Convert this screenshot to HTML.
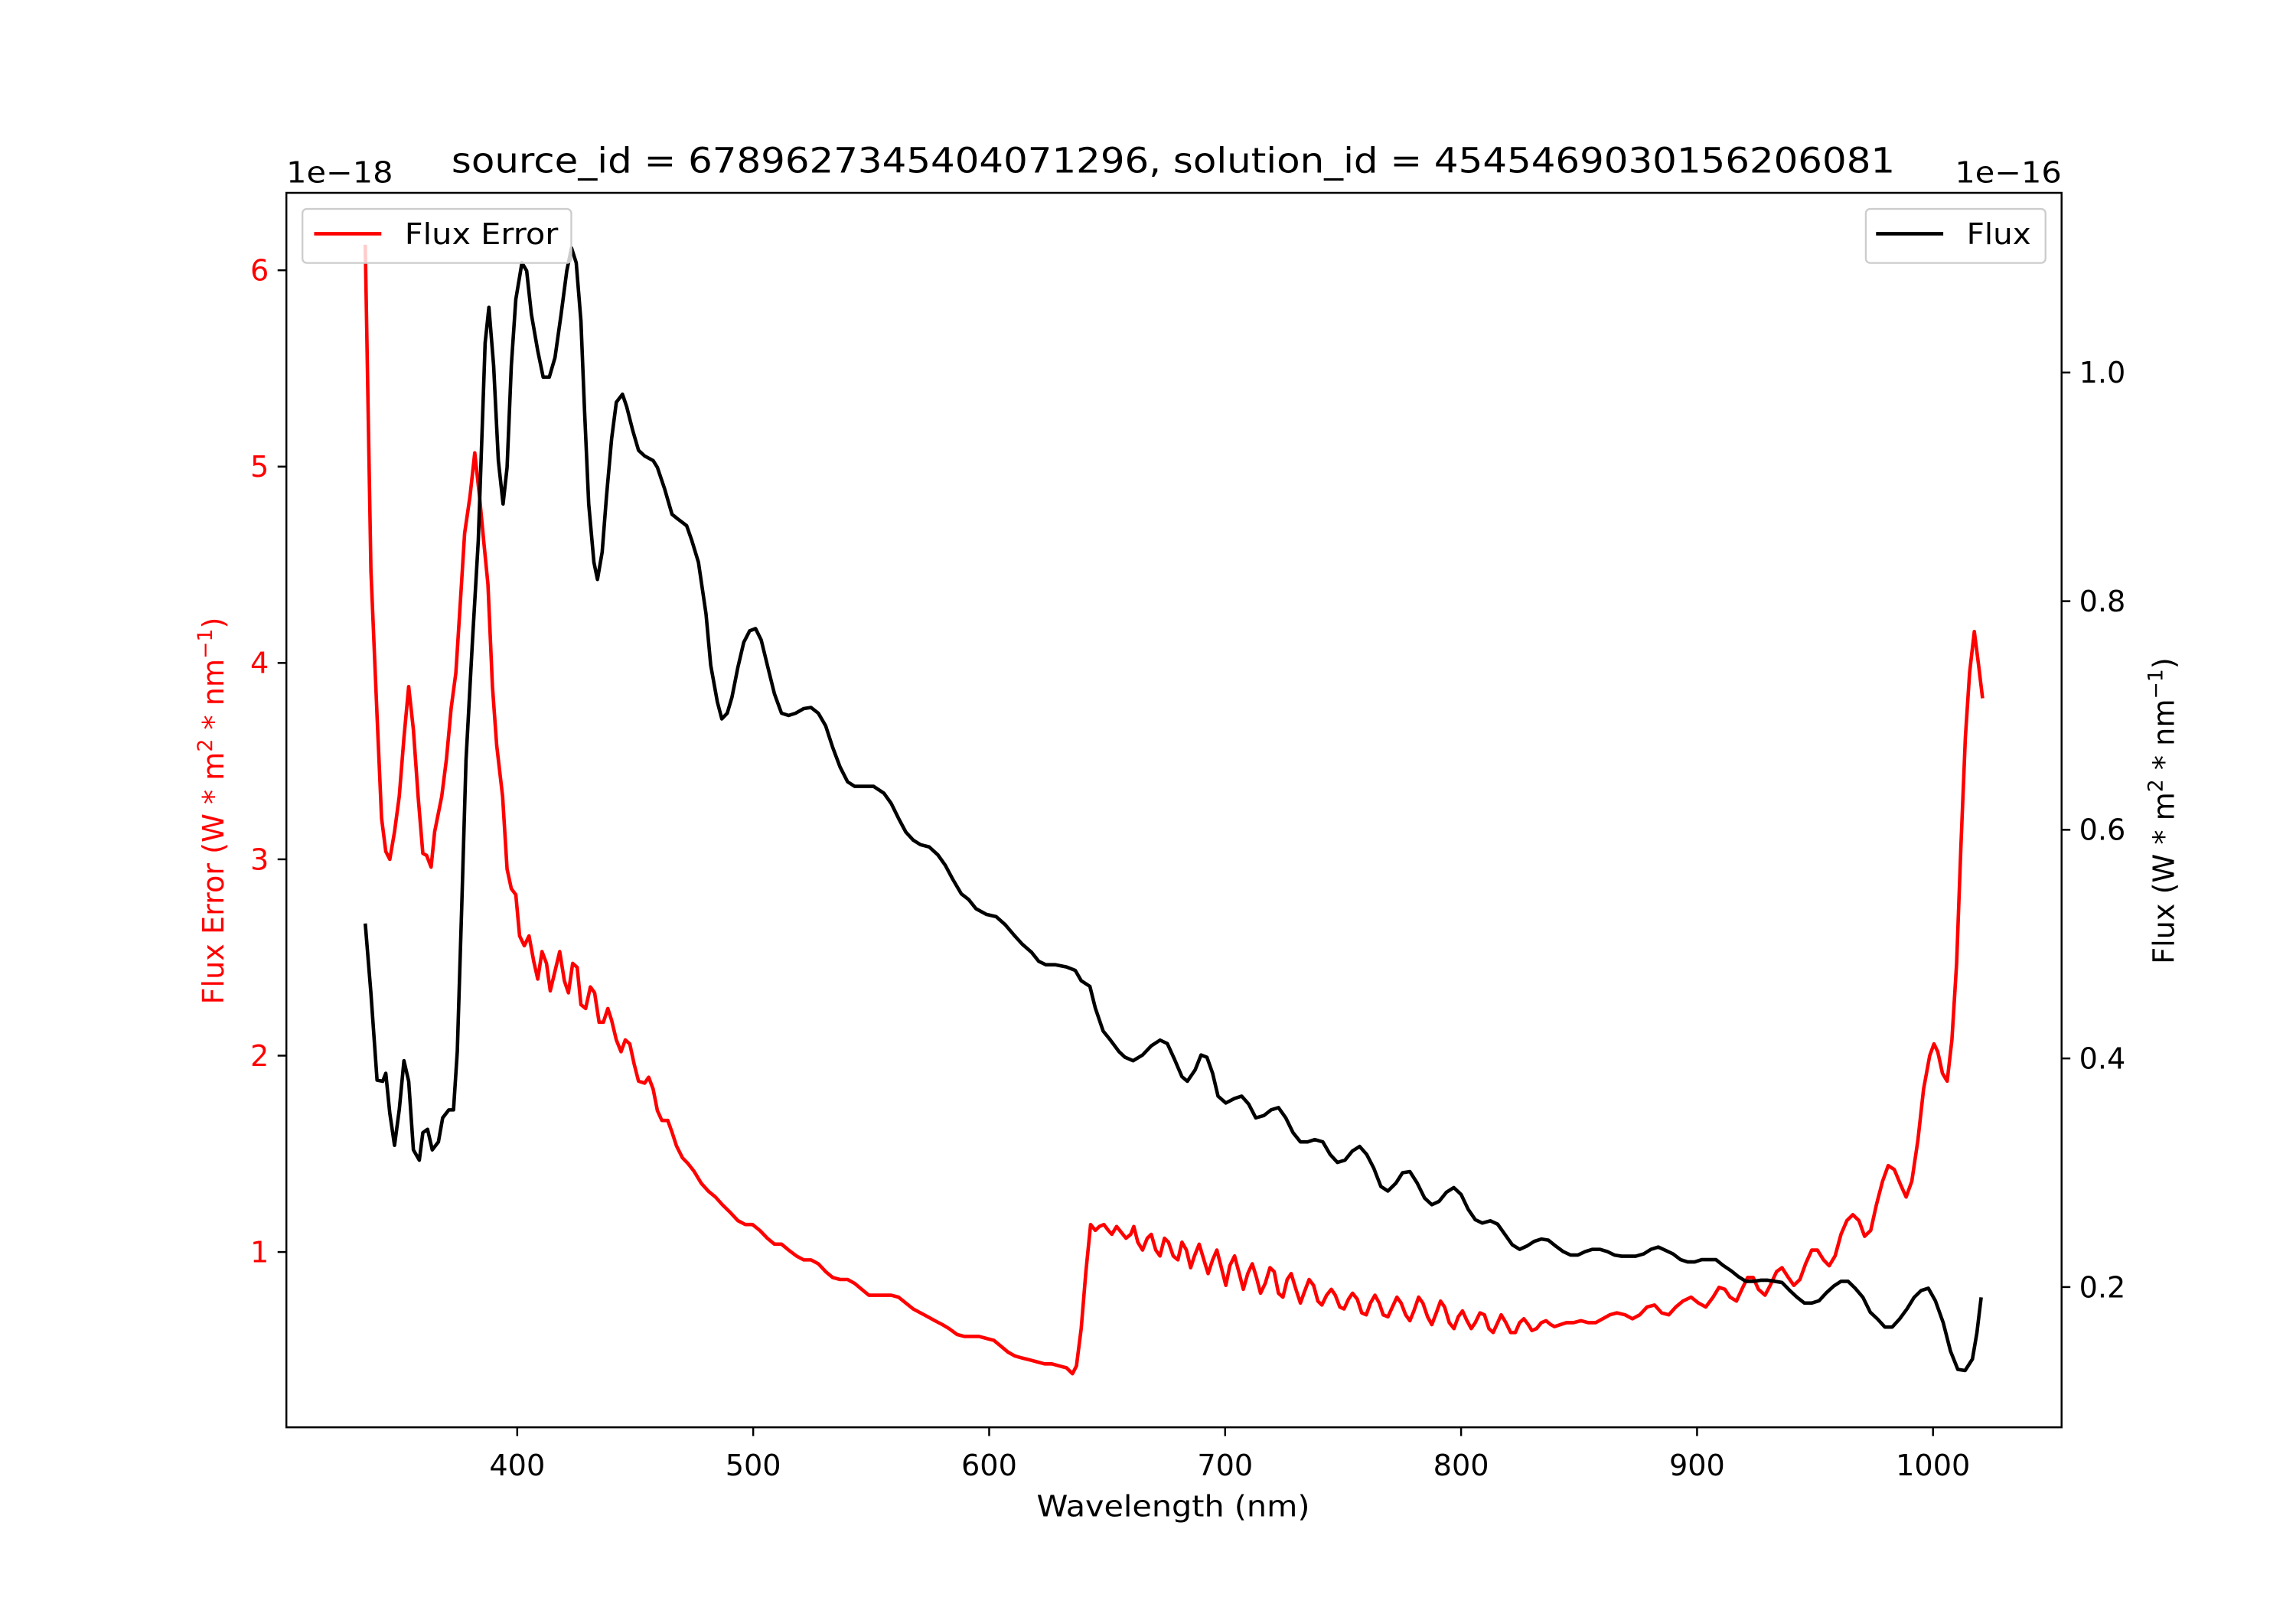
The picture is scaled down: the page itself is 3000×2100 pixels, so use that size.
<!DOCTYPE html>
<html><head><meta charset="utf-8"><style>
html,body{margin:0;padding:0;background:#fff;}
svg{display:block;font-family:"DejaVu Sans","Liberation Sans",sans-serif;}
</style></head><body>
<svg id="chart" width="3000" height="2100" viewBox="0 0 1571.43 1100" xmlns="http://www.w3.org/2000/svg">
<rect x="0" y="0" width="1571.43" height="1100" fill="#fff"/>
<g id="plot"></g>
<text x="803" y="118" font-size="24" text-anchor="middle" textLength="988" lengthAdjust="spacingAndGlyphs">source_id = 6789627345404071296, solution_id = 4545469030156206081</text>
<text x="196" y="125" font-size="20" textLength="73" lengthAdjust="spacingAndGlyphs">1e−18</text>
<text x="1411" y="125" font-size="20" text-anchor="end" textLength="73" lengthAdjust="spacingAndGlyphs">1e−16</text>
<text x="803" y="1038" font-size="20" text-anchor="middle" textLength="187" lengthAdjust="spacingAndGlyphs">Wavelength (nm)</text>
<text transform="translate(153,555) rotate(-90)" font-size="20" fill="#ff0000" text-anchor="middle">Flux Error (W * m<tspan font-size="14" dy="-8">2</tspan><tspan dy="8"> * nm</tspan><tspan font-size="14" dy="-8">−1</tspan><tspan dy="8">)</tspan></text>
<text transform="translate(1488,555) rotate(-90)" font-size="20" fill="#000" text-anchor="middle">Flux (W * m<tspan font-size="14" dy="-8">2</tspan><tspan dy="8"> * nm</tspan><tspan font-size="14" dy="-8">−1</tspan><tspan dy="8">)</tspan></text>
<g>
<rect x="207" y="143" width="184" height="37" rx="3" fill="#fff" fill-opacity="0.8" stroke="#ccc" stroke-width="1.2"/>
<line x1="215" y1="160" x2="261" y2="160" stroke="#ff0000" stroke-width="2.4"/>
<text x="277" y="167" font-size="20" textLength="105" lengthAdjust="spacingAndGlyphs">Flux Error</text>
</g>
<g>
<rect x="1277" y="143" width="123" height="37" rx="3" fill="#fff" fill-opacity="0.8" stroke="#ccc" stroke-width="1.2"/>
<line x1="1284" y1="160" x2="1330" y2="160" stroke="#000" stroke-width="2.4"/>
<text x="1346" y="167" font-size="20" textLength="44" lengthAdjust="spacingAndGlyphs">Flux</text>
</g>
</svg>
<script>
const wlFlux=[335.6,338,340.6,343,344.3,346,348,350,352,354,356,358.5,360,362,364,366.6,368.4,371,373,374.6,376.5,378.3,381,383.5,385,386.4,388,390,392,394,395.7,397.5,399.4,402,404,406,408.7,411,413.6,416,418.6,421,423,425,427,428.5,430.3,432.5,434,436,437.8,440,442,444.6,446.4,449,451.4,454,457.6,459.4,462.5,465.6,468,471.8,474,476.8,480,482,484.8,486.7,489,491,493.5,496,498.5,501,503.4,506,509,512,515,518,521.4,524.5,527.6,530.7,533.7,536.8,540,543,547.4,551,555.4,558.5,561.6,564.7,567.8,570.9,574.6,578.3,581.4,584.5,588.2,591.3,594.4,598.8,603,606.8,610.5,614,617.9,621,624,627.9,632.8,636.5,639,642.7,645,648.3,651.4,655,657.6,661,665,668.7,672.4,675.5,678.6,681.7,684,687.3,689.8,692.3,694.7,697,700.3,704,707,710,713,716.4,719.5,722.6,725.7,728.8,731.9,735,738,741.4,744.5,747.6,750.8,753.9,757,760,763,766,769,772.4,775.2,778.3,781.4,784.5,787.6,790.7,793.8,796.9,800,803,806,809,812.4,815.5,818.6,821.7,824.8,828,831,834,837,840,843.3,846.4,849.5,852.6,855.7,858.8,862,865,868,871,874,877.4,880.5,883.6,886.7,889.8,893,896,899,902,905,908,911,914.6,917.6,920.7,923.8,927,930,933,936,939.3,942.4,945.5,948.6,951.7,954.8,958,961,964,967,970.3,973.4,976.5,979.6,982.7,985.8,989,992,995,998,1001,1004.3,1007.4,1010.5,1013.6,1016.7,1018.6,1020.4];
const fluxVals=[0.518,0.457,0.381,0.380,0.387,0.352,0.324,0.355,0.398,0.380,0.320,0.311,0.335,0.338,0.320,0.327,0.348,0.355,0.355,0.406,0.534,0.661,0.764,0.853,0.942,1.026,1.057,1.006,0.923,0.885,0.917,1.006,1.064,1.096,1.089,1.051,1.019,0.996,0.996,1.013,1.051,1.089,1.109,1.096,1.045,0.968,0.885,0.834,0.819,0.843,0.891,0.942,0.974,0.981,0.970,0.949,0.932,0.927,0.923,0.917,0.898,0.876,0.872,0.866,0.853,0.834,0.789,0.744,0.712,0.697,0.702,0.716,0.742,0.764,0.774,0.776,0.766,0.744,0.719,0.702,0.700,0.702,0.706,0.707,0.702,0.691,0.672,0.655,0.642,0.638,0.638,0.638,0.632,0.623,0.610,0.598,0.591,0.587,0.585,0.578,0.569,0.557,0.544,0.539,0.531,0.526,0.524,0.517,0.508,0.500,0.493,0.485,0.482,0.482,0.480,0.477,0.468,0.463,0.444,0.424,0.416,0.406,0.401,0.398,0.403,0.411,0.416,0.413,0.399,0.384,0.380,0.390,0.403,0.401,0.387,0.367,0.361,0.365,0.367,0.360,0.348,0.350,0.355,0.357,0.348,0.335,0.327,0.327,0.329,0.327,0.316,0.309,0.311,0.319,0.323,0.316,0.304,0.288,0.284,0.291,0.300,0.301,0.291,0.278,0.272,0.275,0.283,0.287,0.281,0.268,0.259,0.256,0.258,0.255,0.246,0.237,0.233,0.236,0.240,0.242,0.241,0.236,0.231,0.228,0.228,0.231,0.233,0.233,0.231,0.228,0.227,0.227,0.227,0.229,0.233,0.235,0.232,0.229,0.224,0.222,0.222,0.224,0.224,0.224,0.219,0.214,0.209,0.205,0.205,0.206,0.206,0.205,0.204,0.197,0.191,0.186,0.186,0.188,0.195,0.201,0.205,0.205,0.199,0.191,0.178,0.172,0.165,0.165,0.172,0.181,0.191,0.197,0.199,0.188,0.169,0.144,0.128,0.127,0.137,0.160,0.191];
const wlErr=[335.6,338,340.6,342.5,344.3,346,348,350,352,354,356,358,360,361.6,363.5,365,368,370,372,374,376,377.7,380,382,384,385.8,387.6,389.5,391.3,393.8,395.7,397.5,399.4,401,403,405,407,408.7,410.5,412.4,414,416,418,420,421.7,423.5,425.4,427,429,431,432.8,434.7,436.5,438.4,440,442,444,445.8,447.7,449.5,451.4,454,455.7,457.6,459.4,461.3,463.8,465.6,467.5,470,472.4,475,478,481,484,487,490.4,493.5,496.6,499.7,502.8,506,509,512,515,518.3,521.4,524.5,527.6,530.7,533.7,536.8,540,543,546,549,552,555.4,558.5,561.6,564.7,567.8,570.9,574,577,580.2,583,586.4,589.5,592.6,595.7,598.8,602,605,608,611,614,617.3,620.4,623.5,626.6,629.7,632.8,635.3,637,639,641,643,645,646.7,648.6,650.5,652,654,656,658,660,661.3,663,665,667,668.7,670.6,672.4,674.3,676,678,680,681.7,683.6,685.4,687,689,691,692.8,694.7,696.5,698.4,700.3,702,704,706,707.7,709.6,711.5,713.3,715,717,719,720.8,722.6,724.5,726.3,728,730,731.9,733.7,735.6,737.5,739.3,741,743,745,746.7,748.6,750.4,752.3,754,756,757.9,759.8,761.6,763.5,765.3,767,769,770.9,772.8,774.6,776.5,778.3,780,782,783.8,785.8,787.6,789.5,791.3,793,795,797,798.8,800.6,802.5,804.3,806,808,809.9,811.8,813.6,815.5,817,819,821,823,824.8,826.6,828.5,830,832,834,836,838,839.6,842,844.6,847.6,850.8,853.9,857,860,863,866,869.5,872.6,875.7,878.8,882,885,888,891,894,897.5,900.6,903.7,906.8,909.3,911.8,914,916.7,919,921.4,923.8,926,928.8,931,933.7,936,938.7,941,943.6,946,948.6,951,953.6,956,958.5,961,963.5,966,968.6,971,973.6,976,978.6,981,983.6,986,988.6,991,993.6,996,998.6,1000.4,1002,1004,1006,1008,1010,1011.8,1013.7,1015.5,1017.5,1019.3,1021];
const errVals=[6.13,4.47,3.73,3.21,3.04,3.00,3.14,3.32,3.62,3.88,3.66,3.32,3.03,3.02,2.96,3.14,3.32,3.51,3.77,3.95,4.33,4.66,4.85,5.07,4.85,4.62,4.40,3.88,3.58,3.32,2.95,2.85,2.82,2.61,2.56,2.61,2.48,2.39,2.53,2.47,2.33,2.43,2.53,2.38,2.32,2.47,2.45,2.26,2.24,2.35,2.32,2.17,2.17,2.24,2.18,2.08,2.02,2.08,2.06,1.96,1.87,1.86,1.89,1.83,1.72,1.67,1.67,1.61,1.54,1.48,1.45,1.41,1.35,1.31,1.28,1.24,1.20,1.16,1.14,1.14,1.11,1.07,1.04,1.04,1.01,0.98,0.96,0.96,0.94,0.90,0.87,0.86,0.86,0.84,0.81,0.78,0.78,0.78,0.78,0.77,0.74,0.71,0.69,0.67,0.65,0.63,0.61,0.58,0.57,0.57,0.57,0.56,0.55,0.52,0.49,0.47,0.46,0.45,0.44,0.43,0.43,0.42,0.41,0.38,0.42,0.61,0.90,1.14,1.11,1.13,1.14,1.11,1.09,1.13,1.10,1.07,1.09,1.13,1.05,1.01,1.07,1.09,1.01,0.98,1.07,1.05,0.98,0.96,1.05,1.01,0.92,0.98,1.04,0.96,0.89,0.96,1.01,0.92,0.83,0.93,0.98,0.89,0.81,0.89,0.94,0.87,0.79,0.84,0.92,0.90,0.79,0.77,0.86,0.89,0.81,0.74,0.80,0.86,0.83,0.75,0.73,0.78,0.81,0.78,0.72,0.71,0.76,0.79,0.76,0.69,0.68,0.74,0.78,0.74,0.68,0.67,0.72,0.77,0.74,0.68,0.65,0.70,0.77,0.74,0.67,0.63,0.69,0.75,0.72,0.64,0.61,0.67,0.70,0.65,0.61,0.64,0.69,0.68,0.61,0.59,0.64,0.68,0.64,0.59,0.59,0.64,0.66,0.63,0.60,0.61,0.64,0.65,0.63,0.62,0.63,0.64,0.64,0.65,0.64,0.64,0.66,0.68,0.69,0.68,0.66,0.68,0.72,0.73,0.69,0.68,0.72,0.75,0.77,0.74,0.72,0.77,0.82,0.81,0.77,0.75,0.81,0.87,0.87,0.81,0.78,0.83,0.90,0.92,0.87,0.83,0.86,0.94,1.01,1.01,0.96,0.93,0.98,1.09,1.16,1.19,1.16,1.08,1.11,1.24,1.36,1.44,1.42,1.35,1.28,1.36,1.57,1.83,2.00,2.06,2.02,1.91,1.87,2.08,2.47,3.06,3.62,3.95,4.16,3.99,3.82];
const xTicks=[400,500,600,700,800,900,1000];
const xTickLabels=["400","500","600","700","800","900","1000"];
const leftTicks=[1,2,3,4,5,6];
const leftTickLabels=["1","2","3","4","5","6"];
const rightTicks=[0.2,0.4,0.6,0.8,1.0];
const rightTickLabels=["0.2","0.4","0.6","0.8","1.0"];

const L=196,R=1411,T=132,B=977;
function xs(v){return 354+(v-400)*1.615;}
function yl(v){return 857-(v-1)*134.4;}
function yr(v){return 881-(v-0.2)*782.5;}
const NS="http://www.w3.org/2000/svg";
const plot=document.getElementById('plot');
function mk(tag,attrs,parent){const e=document.createElementNS(NS,tag);for(const k in attrs)e.setAttribute(k,attrs[k]);(parent||plot).appendChild(e);return e;}

const cp=mk('clipPath',{id:'clip'});
mk('rect',{x:L,y:T,width:R-L,height:B-T},cp);

const errPath=mk('path',{d:wlErr.map((w,i)=>(i?'L':'M')+xs(w).toFixed(2)+','+yl(errVals[i]).toFixed(2)).join(''),fill:'none',stroke:'#ff0000','stroke-width':2.4,'stroke-linejoin':'round','clip-path':'url(#clip)'});


const fluxPath=mk('path',{d:wlFlux.map((w,i)=>(i?'L':'M')+xs(w).toFixed(2)+','+yr(fluxVals[i]).toFixed(2)).join(''),fill:'none',stroke:'#000','stroke-width':2.4,'stroke-linejoin':'round','clip-path':'url(#clip)'});



const frame=mk('rect',{x:L,y:T,width:R-L,height:B-T,fill:'none',stroke:'#000','stroke-width':1.3});



xTicks.forEach((v,i)=>{
  const x=xs(v);
  const t=mk('line',{x1:x,y1:B,x2:x,y2:B+6,stroke:'#000','stroke-width':1.3});
  
  
  const lb=mk('text',{x:x,y:B+33,'font-size':20,'text-anchor':'middle'});
  lb.textContent=xTickLabels[i];
  
  
});
leftTicks.forEach((v,i)=>{
  const y=yl(v);
  const t=mk('line',{x1:L-6,y1:y,x2:L,y2:y,stroke:'#000','stroke-width':1.3});
  
  
  const lb=mk('text',{x:L-12,y:y+7,'font-size':20,'text-anchor':'end',fill:'#ff0000'});
  lb.textContent=leftTickLabels[i];
  
  
});
rightTicks.forEach((v,i)=>{
  const y=yr(v);
  const t=mk('line',{x1:R,y1:y,x2:R+6,y2:y,stroke:'#000','stroke-width':1.3});
  
  
  const lb=mk('text',{x:R+12,y:y+7,'font-size':20,'text-anchor':'start'});
  lb.textContent=rightTickLabels[i];
  
  
});
</script>
</body></html>
